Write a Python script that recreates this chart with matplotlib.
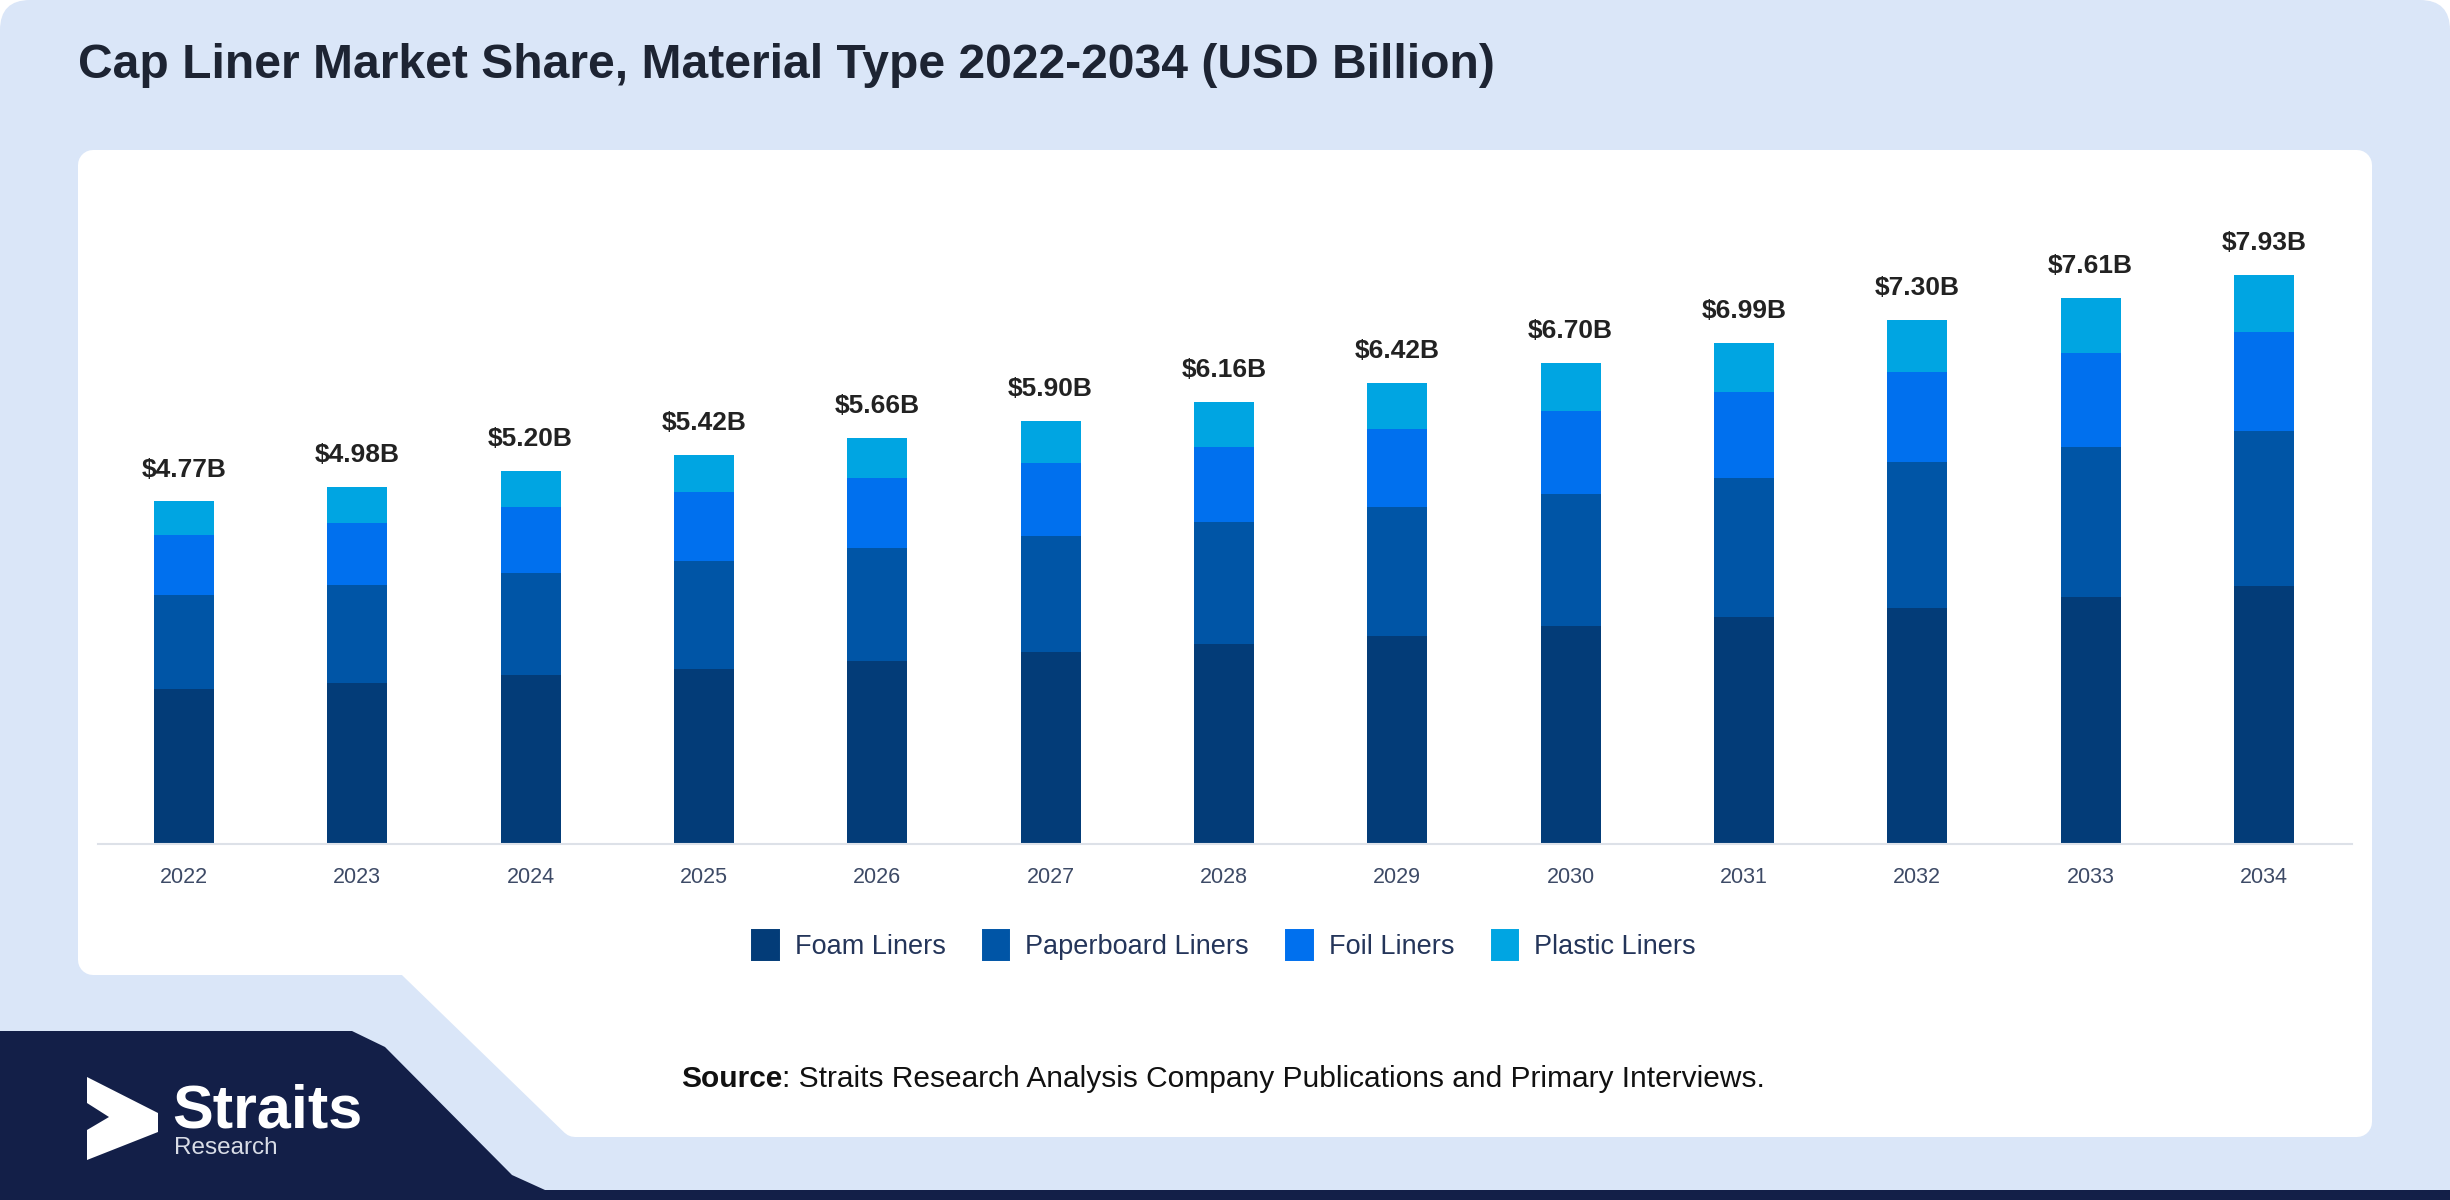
import matplotlib.pyplot as plt
import matplotlib.patches as mpatches
import numpy as np

plt.rcParams['font.family'] = ['Liberation Sans', 'DejaVu Sans']

# data
years = [2022, 2023, 2024, 2025, 2026, 2027, 2028, 2029, 2030, 2031, 2032, 2033, 2034]
foam = [2.16, 2.24, 2.35, 2.44, 2.55, 2.68, 2.79, 2.90, 3.03, 3.16, 3.29, 3.44, 3.59]
paperboard = [1.31, 1.37, 1.42, 1.50, 1.57, 1.61, 1.70, 1.79, 1.85, 1.94, 2.03, 2.09, 2.16]
foil = [0.83, 0.87, 0.92, 0.96, 0.98, 1.02, 1.05, 1.09, 1.15, 1.20, 1.26, 1.31, 1.39]
plastic = [0.48, 0.50, 0.51, 0.52, 0.56, 0.59, 0.62, 0.64, 0.67, 0.69, 0.72, 0.77, 0.79]
totals = [4.77, 4.98, 5.20, 5.42, 5.66, 5.90, 6.16, 6.42, 6.70, 6.99, 7.30, 7.61, 7.93]

series_names = ['Foam Liners', 'Paperboard Liners', 'Foil Liners', 'Plastic Liners']
colors = ['#033c78', '#0055a6', '#0070ee', '#00a5e2']

W, H = 2450, 1200
fig = plt.figure(figsize=(W / 100, H / 100), dpi=100)
fig.patch.set_facecolor('white')

# background shapes, drawn in pixel coords
bg = fig.add_axes([0, 0, 1, 1], zorder=0)
bg.set_xlim(0, W)
bg.set_ylim(H, 0)
bg.axis('off')

# light blue frame with rounded top-left corner
bg.add_patch(mpatches.FancyBboxPatch((0, 0), W, H + 40, boxstyle='round,pad=0,rounding_size=30',
                                     facecolor='#dae6f8', edgecolor='none'))

# white card (round joins give the soft corners)
card = [(93, 165), (2357, 165), (2357, 1122), (575, 1122), (408, 960), (93, 960)]
bg.add_patch(mpatches.Polygon(card, closed=True, facecolor='white', edgecolor='white',
                              linewidth=21.6, joinstyle='round'))

# navy block bottom-left
navy = [(0, 1031), (352, 1031), (385, 1047), (512, 1175), (545, 1190),
        (W, 1190), (W, H), (0, H)]
bg.add_patch(mpatches.Polygon(navy, closed=True, facecolor='#131f48', edgecolor='none'))

# logo
arrow = [(87, 1077), (158, 1113), (158, 1132), (87, 1160), (87, 1130), (109, 1117), (87, 1103)]
bg.add_patch(mpatches.Polygon(arrow, closed=True, facecolor='white', edgecolor='none'))
bg.text(172, 1127, 'Straits', color='white', fontsize=44, fontweight='bold',
        va='baseline', ha='left')
bg.text(174, 1154, 'Research', color='#d8dce6', fontsize=17.5, va='baseline', ha='left')

# title
fig.text(78 / W, 1 - 65 / H, 'Cap Liner Market Share, Material Type 2022-2034 (USD Billion)',
         fontsize=34.6, fontweight='bold', color='#1d2433', va='center', ha='left')

# chart
ax = fig.add_axes([98 / W, 1 - 843.75 / H, (2352 - 98) / W, 645.3 / H], zorder=1)
ax.set_facecolor('none')
x = np.arange(len(years))
bottom = np.zeros(len(years))
for vals, name, c in zip([foam, paperboard, foil, plastic], series_names, colors):
    ax.bar(x, vals, bottom=bottom, width=0.345, color=c, label=name, zorder=2)
    bottom += np.array(vals)

for xi, t in zip(x, totals):
    ax.annotate(f'${t:.2f}B', (xi, t), xytext=(0, 23), textcoords='offset points',
                ha='center', va='center', fontsize=19, fontweight='bold', color='#222222')

ax.set_xlim(-0.496, 12.508)
ax.set_ylim(0, 9)
ax.set_xticks(x)
ax.set_xticklabels([str(y) for y in years], fontsize=15.5, color='#3d4a66')
ax.tick_params(axis='x', length=0, pad=17)
ax.set_yticks([])
for s in ['top', 'right', 'left']:
    ax.spines[s].set_visible(False)
ax.spines['bottom'].set_color('#dde1e8')
ax.spines['bottom'].set_linewidth(1.5)

handles = [mpatches.Patch(facecolor=c, edgecolor=c, linewidth=5, joinstyle='round')
           for c in colors]
fig.legend(handles, series_names, loc='center', bbox_to_anchor=(0.5, 1 - 946 / H), ncol=4,
           frameon=False, fontsize=19.5, handlelength=0.8, handleheight=1.0,
           handletextpad=0.7, columnspacing=1.45, labelcolor='#24355a')

# source line, bold word then regular text
renderer = fig.canvas.get_renderer()
t1 = fig.text(681 / W, 1 - 1079 / H, 'Source', fontsize=21.5, fontweight='bold',
              color='#111111', va='center', ha='left')
bb = t1.get_window_extent(renderer=renderer)
fig.text(bb.x1 / W, 1 - 1079 / H,
         ': Straits Research Analysis Company Publications and Primary Interviews.',
         fontsize=21.5, color='#111111', va='center', ha='left')

plt.savefig('out.png', dpi=100, facecolor=fig.get_facecolor())
